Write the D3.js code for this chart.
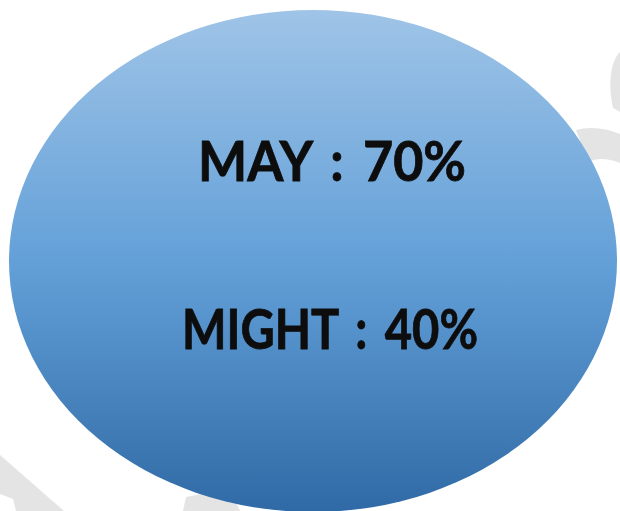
<!DOCTYPE html>
<html><head><meta charset="utf-8">
<script src="https://cdn.jsdelivr.net/npm/d3@7"></script>
<style>html,body{margin:0;padding:0;background:#fff;overflow:hidden}</style>
</head><body>
<script>
const labels = ["MAY", "MIGHT"];
const values = [70, 40];

const W = 620, H = 511;
const svg = d3.select("body").append("svg").attr("width", W).attr("height", H);

const defs = svg.append("defs");
const grad = defs.append("linearGradient").attr("id", "g").attr("x1", 0).attr("y1", 0).attr("x2", 0).attr("y2", 1);
grad.append("stop").attr("offset", "0%").attr("stop-color", "#9fc4e7");
grad.append("stop").attr("offset", "50%").attr("stop-color", "#63a0d8");
grad.append("stop").attr("offset", "100%").attr("stop-color", "#306aa6");

// faint watermark strokes (behind the ellipse)
const wm = svg.append("g").attr("fill", "#e4e4e4");
wm.append("path").attr("d", "M620,52 C610,62 608,85 613,108 L620,112 Z");
wm.append("path").attr("d", "M576,130 C590,126 606,128 620,134 L620,163 C608,158 596,158 588,162 Z");
wm.append("path").attr("d", "M0,455 L64,511 L16,511 L13,499 L0,494 Z");
wm.append("path").attr("d", "M183,511 L186,497 L230,488 L240,511 Z");

const cx = 313, cy = 261, rx = 304, ry = 251;
svg.append("ellipse").attr("cx", cx).attr("cy", cy).attr("rx", rx).attr("ry", ry).attr("fill", "url(#g)");

const y = d3.scalePoint().domain(labels).range([181, 349]);
const xs = [[198, 466], [182, 478]];
svg.selectAll("text.lbl").data(labels).join("text")
  .attr("class", "lbl")
  .attr("x", (d, i) => xs[i][0])
  .attr("y", d => y(d))
  .attr("font-family", "Lato, 'Open Sans', sans-serif")
  .attr("font-weight", "bold")
  .attr("font-size", 55)
  .attr("word-spacing", 7)
  .attr("textLength", (d, i) => xs[i][1] - xs[i][0])
  .attr("lengthAdjust", "spacingAndGlyphs")
  .attr("fill", "#0d0d0d")
  .attr("stroke", "#0d0d0d")
  .attr("stroke-width", 0.8)
  .text((d, i) => `${d} : ${values[i]}%`);
</script>
</body></html>
